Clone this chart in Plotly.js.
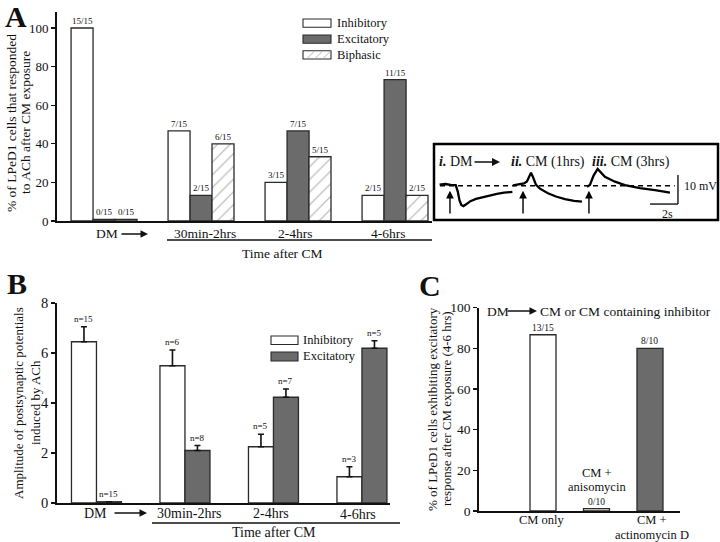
<!DOCTYPE html>
<html><head><meta charset="utf-8">
<script src="https://cdn.plot.ly/plotly-3.0.1.min.js"></script>
<style>html,body{margin:0;padding:0;background:#fff}#chart{width:720px;height:542px}</style>
</head><body><div id="chart"></div>
<script>
// ---------- Panel A data ----------
const groupsA = ['DM', '30min-2hrs', '2-4hrs', '4-6hrs'];
const inhibA = [100, 46.7, 20, 13.3];
const excitA = [0.8, 13.3, 46.7, 73.3];
const biphA = [0.8, 40, 33.3, 13.3];
const inhibA_lbl = ['15/15', '7/15', '3/15', '2/15'];
const excitA_lbl = ['0/15', '2/15', '7/15', '11/15'];
const biphA_lbl = ['0/15', '6/15', '5/15', '2/15'];
const ticksA = [0, 20, 40, 60, 80, 100];

// ---------- Panel B data ----------
const groupsB = ['DM', '30min-2hrs', '2-4hrs', '4-6hrs'];
const inhibB = [6.45, 5.49, 2.25, 1.05];
const inhibB_err = [0.6, 0.63, 0.5, 0.4];
const excitB = [0.05, 2.1, 4.23, 6.19];
const excitB_err = [0, 0.2, 0.33, 0.3];
const inhibB_lbl = ['n=15', 'n=6', 'n=5', 'n=3'];
const excitB_lbl = ['n=15', 'n=8', 'n=7', 'n=5'];
const ticksB = [0, 2, 4, 6, 8];

// ---------- Panel C data ----------
const groupsC = ['CM only', 'CM + anisomycin', 'CM + actinomycin D'];
const valuesC = [86.7, 1.2, 80];
const labelsC = ['13/15', '0/10', '8/10'];
const ticksC = [0, 20, 40, 60, 80, 100];

// ---------- Inset recordings (time s, mV relative to baseline) ----------
const recI_t = [0.4, 0.8, 1.2, 1.55, 1.7, 1.82, 1.95, 2.1, 2.3, 2.6, 3.0, 3.5, 4.0, 4.5, 5.0, 5.6];
const recI_v = [0.4, 0.6, 0.3, 0.2, -2.0, -5.0, -6.6, -7.0, -6.4, -5.3, -4.5, -3.9, -3.3, -2.8, -2.4, -2.1];
const recII_t = [5.64, 6.0, 6.43, 6.64, 6.82, 6.93, 7.07, 7.29, 7.57, 8.14, 8.71, 9.36, 10.0, 10.57];
const recII_v = [0.1, 0.5, 0.8, 1.5, 3.5, 4.5, 3.0, 0.3, -1.0, -2.6, -3.7, -4.6, -5.2, -5.5];
const recIII_t = [10.93, 11.14, 11.4, 11.69, 12.21, 12.93, 13.64, 14.71, 15.79, 16.86];
const recIII_v = [-0.3, 0.3, 3.5, 5.8, 3.1, 1.4, 0.2, -0.8, -1.5, -2.4];
const stimTimes = [1.14, 6.36, 11.07];
const scaleBar = {t: 2, mV: 10};

// ---------- helpers ----------
const W = 720, H = 542;
const PX = p => p / W;
const PY = p => 1 - p / H;
const FONT = 'Liberation Serif, Times New Roman, serif';
const INK = '#111';
const EXC = '#6b6b6b';
const EDGE = '#2a2a2a';

const traces = [];
const annotations = [];
const shapes = [];

// ---------- Panel A bars ----------
const wA = 0.2268;
const seriesA = [
  {y: inhibA, lbl: inhibA_lbl, off: -0.34, color: '#fff', pat: null},
  {y: excitA, lbl: excitA_lbl, off: -0.113, color: EXC, pat: null},
  {y: biphA, lbl: biphA_lbl, off: 0.113, color: '#fff', pat: {shape: '/', fgcolor: '#b0b0b0', bgcolor: '#fff', size: 9, solidity: 0.12}}
];
seriesA.forEach(s => {
  const m = {color: s.color, line: {color: EDGE, width: 1.3}};
  if (s.pat) m.pattern = s.pat;
  traces.push({type: 'bar', x: groupsA, y: s.y, width: wA, offset: s.off, marker: m,
    xaxis: 'x', yaxis: 'y', showlegend: false, hoverinfo: 'skip'});
  s.y.forEach((v, i) => annotations.push({xref: 'x', yref: 'y', x: i + s.off + wA / 2, y: v,
    text: s.lbl[i], showarrow: false, yanchor: 'bottom', font: {size: 9, color: INK}}));
});

// ---------- Panel B bars ----------
const wB = 0.2825;
const seriesB = [
  {y: inhibB, e: inhibB_err, lbl: inhibB_lbl, off: -wB, color: '#fff'},
  {y: excitB, e: excitB_err, lbl: excitB_lbl, off: 0, color: EXC}
];
seriesB.forEach(s => {
  traces.push({type: 'bar', x: groupsB, y: s.y, width: wB, offset: s.off,
    marker: {color: s.color, line: {color: EDGE, width: 1.3}},
    error_y: {type: 'data', array: s.e, arrayminus: s.e.map(() => 0), symmetric: false,
      visible: true, color: INK, thickness: 1.6, width: 3},
    xaxis: 'x2', yaxis: 'y2', showlegend: false, hoverinfo: 'skip'});
  s.y.forEach((v, i) => annotations.push({xref: 'x2', yref: 'y2', x: i + s.off + wB / 2, y: v + s.e[i],
    text: s.lbl[i], showarrow: false, yanchor: 'bottom', yshift: 1, font: {size: 9, color: INK}}));
});

// ---------- Panel C bars ----------
const wC = 0.486;
traces.push({type: 'bar', x: groupsC, y: valuesC, width: wC, offset: -wC / 2,
  marker: {color: ['#fff', '#e6e6e6', EXC], line: {color: EDGE, width: 1.3}},
  xaxis: 'x3', yaxis: 'y3', showlegend: false, hoverinfo: 'skip'});
valuesC.forEach((v, i) => annotations.push({xref: 'x3', yref: 'y3', x: i, y: v, text: labelsC[i],
  showarrow: false, yanchor: 'bottom', font: {size: 9.5, color: INK}}));

// ---------- Inset recordings ----------
[[recI_t, recI_v], [recII_t, recII_v], [recIII_t, recIII_v]].forEach(([t, v]) => {
  traces.push({type: 'scatter', mode: 'lines', x: t, y: v, line: {color: '#000', width: 2.3},
    xaxis: 'x4', yaxis: 'y4', showlegend: false, hoverinfo: 'skip'});
});
stimTimes.forEach(t => annotations.push({xref: 'x4', yref: 'y4', axref: 'x4', ayref: 'y4',
  x: t, y: -1.7, ax: t, ay: -10.1, text: '', showarrow: true, arrowhead: 2, arrowsize: 1.1,
  arrowwidth: 1.4, arrowcolor: '#000'}));
shapes.push({type: 'line', xref: 'x4', yref: 'y4', x0: 0.43, x1: 17.2, y0: 0, y1: 0,
  line: {color: '#000', width: 1.6, dash: '5px,4px'}});
const sbT = 17.43, sbV = -6.3;
shapes.push({type: 'line', xref: 'x4', yref: 'y4', x0: sbT, x1: sbT, y0: sbV, y1: sbV + scaleBar.mV, line: {color: '#000', width: 1.3}});
shapes.push({type: 'line', xref: 'x4', yref: 'y4', x0: sbT - scaleBar.t, x1: sbT, y0: sbV, y1: sbV, line: {color: '#000', width: 1.3}});
shapes.push({type: 'rect', xref: 'paper', yref: 'paper', x0: PX(434), x1: PX(718), y0: PY(220), y1: PY(144),
  line: {color: '#000', width: 2.5}});

// ---------- text helpers ----------
function txt(x, y, text, size, opts) {
  annotations.push(Object.assign({xref: 'paper', yref: 'paper', x: PX(x), y: PY(y), text: text,
    showarrow: false, xanchor: 'center', yanchor: 'middle', font: {size: size, color: INK, family: FONT}}, opts || {}));
}
function arrow(x0, x1, y, w) {
  annotations.push({xref: 'paper', yref: 'paper', x: PX(x1), y: PY(y), ax: x0 - x1, ay: 0, text: '',
    showarrow: true, arrowhead: 2, arrowsize: 1, arrowwidth: w || 1.5, arrowcolor: '#111'});
}
function hline(x0, x1, y, w) {
  shapes.push({type: 'line', xref: 'paper', yref: 'paper', x0: PX(x0), x1: PX(x1), y0: PY(y), y1: PY(y), line: {color: '#111', width: w || 1.6}});
}
function rect(x0, y0, x1, y1, fill) {
  shapes.push({type: 'rect', xref: 'paper', yref: 'paper', x0: PX(x0), x1: PX(x1), y0: PY(y1), y1: PY(y0), fillcolor: fill, line: {color: EDGE, width: 1.1}});
}

// Panel letters
txt(16, 16, '<b>A</b>', 30);
txt(17, 283, '<b>B</b>', 30);
txt(430, 285, '<b>C</b>', 30);

// Panel A axis titles and categories
txt(11, 123, '% of LPeD1 cells that responded', 13.5, {textangle: -90});
txt(25, 123, 'to ACh after CM exposure', 13.5, {textangle: -90});
txt(107, 234, 'DM', 13.5);
arrow(120, 148, 234);
txt(205, 233, '30min-2hrs', 13.5);
txt(295, 234, '2-4hrs', 13.5);
txt(388, 233, '4-6hrs', 13.5);
hline(167, 432, 240, 1.6);
txt(282, 253, 'Time after CM', 13.5);

// Panel A legend
rect(303, 19, 331, 27.3, '#fff');
rect(303, 35, 331, 43.3, EXC);
rect(303, 50.7, 331, 59, '#fff');
[307, 315, 323].forEach(x => shapes.push({type: 'line', xref: 'paper', yref: 'paper', x0: PX(x), y0: PY(58.5), x1: PX(x + 7.5), y1: PY(51.2), line: {color: '#b0b0b0', width: 0.9}}));
txt(335, 23, 'Inhibitory', 12.5, {xanchor: 'left'});
txt(335, 39, 'Excitatory', 12.5, {xanchor: 'left'});
txt(335, 55, 'Biphasic', 12.5, {xanchor: 'left'});

// Inset texts
txt(437, 162, '<b><i>i.</i></b> DM', 14, {xanchor: 'left'});
arrow(473, 500, 162, 1.6);
txt(509, 162, '<b><i>ii.</i></b> CM (1hrs)', 14, {xanchor: 'left'});
txt(590, 162, '<b><i>iii.</i></b> CM (3hrs)', 14, {xanchor: 'left'});
txt(682, 186, '10 mV', 12, {xanchor: 'left'});
txt(667, 214, '2s', 12);

// Panel B axis titles and categories
txt(18, 403, 'Amplitude of postsynaptic potentials', 13, {textangle: -90});
txt(35, 403, 'induced by ACh', 13, {textangle: -90});
txt(95, 513, 'DM', 14);
arrow(113, 147, 513);
txt(189, 513, '30min-2hrs', 14);
txt(271, 513, '2-4hrs', 14);
txt(358, 514, '4-6hrs', 14);
hline(152, 400, 523, 1.6);
txt(274, 532, 'Time after CM', 14);

// Panel B legend
rect(271, 336, 298, 344.5, '#fff');
rect(271, 352, 298, 361, EXC);
txt(301, 340, 'Inhibitory', 12.5, {xanchor: 'left'});
txt(301, 356, 'Excitatory', 12.5, {xanchor: 'left'});

// Panel C texts
txt(432, 409, '% of LPeD1 cells exhibiting excitatory', 13, {textangle: -90});
txt(446, 409, 'response after CM exposure (4-6 hrs)', 13, {textangle: -90});
txt(485, 311, 'DM', 13.5, {xanchor: 'left'});
arrow(506, 537, 311);
txt(538, 311, 'CM or CM containing inhibitor', 13.5, {xanchor: 'left'});
txt(542, 520, 'CM only', 12.5);
txt(597, 473, 'CM +', 12.5);
txt(597, 487, 'anisomycin', 12.5);
txt(652, 520, 'CM +', 12.5);
txt(652, 535, 'actinomycin D', 12.5);

// ---------- axes ----------
const xCommon = {showgrid: false, zeroline: false, showticklabels: false, ticks: '',
  showline: true, linecolor: '#111', linewidth: 1.8, fixedrange: true};
const yCommon = {showgrid: false, zeroline: false, showline: true, linecolor: '#111', linewidth: 1.8,
  ticks: 'outside', ticklen: 4, tickwidth: 1.3, tickcolor: '#111', fixedrange: true};

const layout = {
  width: W, height: H, margin: {l: 0, r: 0, t: 0, b: 0},
  paper_bgcolor: '#fff', plot_bgcolor: 'rgba(0,0,0,0)',
  font: {family: FONT, color: INK},
  barmode: 'overlay', showlegend: false,
  xaxis: Object.assign({}, xCommon, {domain: [PX(57), PX(432)], range: [-0.485, 3.381], type: 'category', anchor: 'y'}),
  yaxis: Object.assign({}, yCommon, {domain: [PY(221), PY(12)], range: [0, 108.3], tickvals: ticksA, tickfont: {size: 13}, anchor: 'x'}),
  xaxis2: Object.assign({}, xCommon, {domain: [PX(57), PX(390)], range: [-0.446, 3.317], type: 'category', anchor: 'y2'}),
  yaxis2: Object.assign({}, yCommon, {domain: [PY(503), PY(303)], range: [0, 8], tickvals: ticksB, tickfont: {size: 14.5}, anchor: 'x2'}),
  xaxis3: Object.assign({}, xCommon, {domain: [PX(479), PX(680)], range: [-1.196, 2.561], type: 'category', anchor: 'y3'}),
  yaxis3: Object.assign({}, yCommon, {domain: [PY(511), PY(307.7)], range: [0, 100], tickvals: ticksC, tickfont: {size: 13.5}, anchor: 'x3'}),
  xaxis4: {domain: [PX(434), PX(718)], range: [0, 20.29], visible: false, fixedrange: true, anchor: 'y4'},
  yaxis4: {domain: [PY(220), PY(144)], range: [-11.8, 14.4], visible: false, fixedrange: true, anchor: 'x4'},
  annotations: annotations,
  shapes: shapes
};

Plotly.newPlot('chart', traces, layout, {displayModeBar: false, staticPlot: true});
</script>
</body></html>
